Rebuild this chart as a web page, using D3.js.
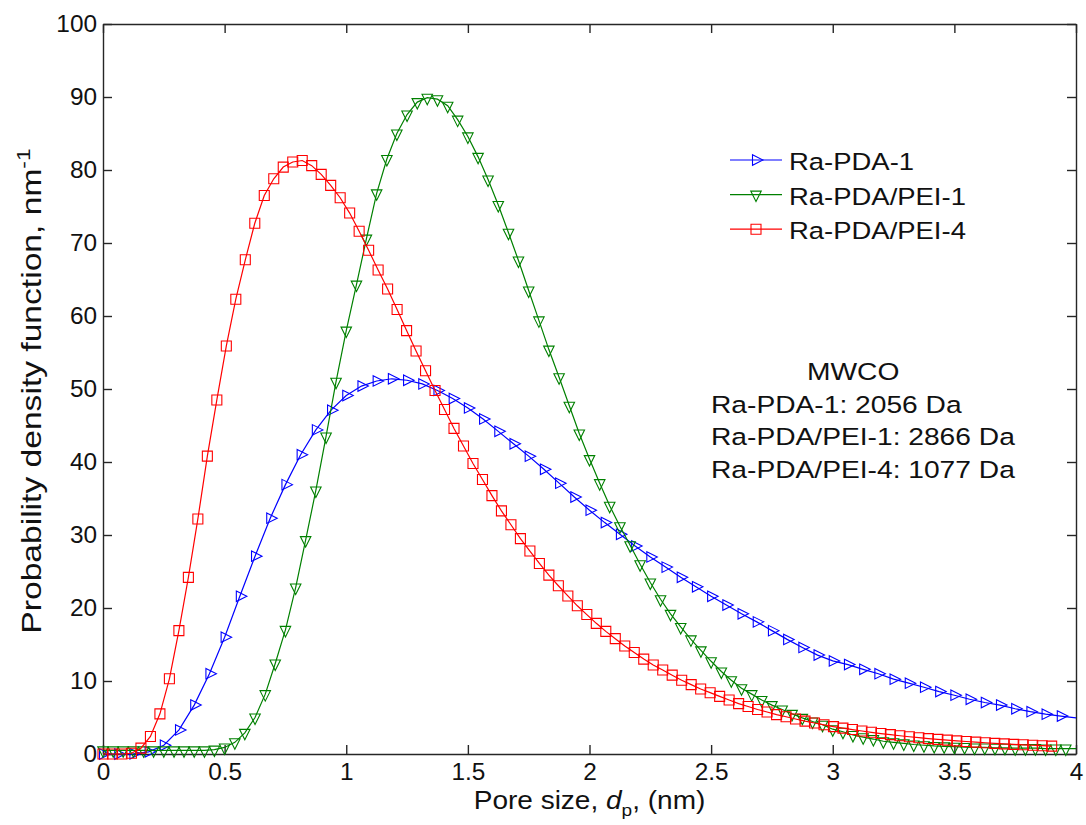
<!DOCTYPE html>
<html><head><meta charset="utf-8">
<script src="https://cdn.jsdelivr.net/npm/d3@7/dist/d3.min.js"></script>
<style>
body{margin:0;background:#fff;}
svg text{font-family:"Liberation Sans", Arial, sans-serif; fill:#111;}
</style></head><body>
<svg id="c" width="1086" height="825"></svg>
<script>
// ---------- data ----------
const xTicks = [0, 0.5, 1, 1.5, 2, 2.5, 3, 3.5, 4];
const xTickLabels = ["0", "0.5", "1", "1.5", "2", "2.5", "3", "3.5", "4"];
const yTicks = [0, 10, 20, 30, 40, 50, 60, 70, 80, 90, 100];
const yTickLabels = ["0", "10", "20", "30", "40", "50", "60", "70", "80", "90", "100"];
const seriesNames = ["Ra-PDA-1", "Ra-PDA/PEI-1", "Ra-PDA/PEI-4"];
const mwcoTitle = "MWCO";
const mwcoLines = ["Ra-PDA-1: 2056 Da", "Ra-PDA/PEI-1: 2866 Da", "Ra-PDA/PEI-4: 1077 Da"];

const blueX = [0,0.0625,0.125,0.1875,0.25,0.3125,0.375,0.4375,0.5,0.5625,0.625,0.6875,0.75,0.8125,0.875,0.9375,1,1.0625,1.125,1.1875,1.25,1.3125,1.375,1.4375,1.5,1.5625,1.625,1.6875,1.75,1.8125,1.875,1.9375,2,2.0625,2.125,2.1875,2.25,2.3125,2.375,2.4375,2.5,2.5625,2.625,2.6875,2.75,2.8125,2.875,2.9375,3,3.0625,3.125,3.1875,3.25,3.3125,3.375,3.4375,3.5,3.5625,3.625,3.6875,3.75,3.8125,3.875,3.9375,4];
const blueY = [0,0,0.02,0.3,1.2,3.3,6.7,11.0,16.0,21.6,27.1,32.3,36.9,41.0,44.4,47.1,49.1,50.4,51.1,51.4,51.2,50.7,49.8,48.7,47.4,45.9,44.2,42.5,40.8,39.0,37.1,35.2,33.4,31.7,30.1,28.5,27.0,25.6,24.2,22.9,21.6,20.4,19.2,18.1,16.9,15.7,14.6,13.55,12.75,12.25,11.6,11.0,10.25,9.7,9.15,8.55,8.05,7.5,7.05,6.7,6.2,5.8,5.45,5.2,4.95];

const greenX = [0,0.042,0.083,0.125,0.167,0.208,0.25,0.292,0.333,0.375,0.417,0.458,0.5,0.542,0.583,0.625,0.667,0.708,0.75,0.792,0.833,0.875,0.917,0.958,1,1.042,1.083,1.125,1.167,1.208,1.25,1.292,1.333,1.375,1.417,1.458,1.5,1.542,1.583,1.625,1.667,1.708,1.75,1.792,1.833,1.875,1.917,1.958,2,2.042,2.083,2.125,2.167,2.208,2.25,2.292,2.333,2.375,2.417,2.458,2.5,2.542,2.583,2.625,2.667,2.708,2.75,2.792,2.833,2.875,2.917,2.958,3,3.042,3.083,3.125,3.167,3.208,3.25,3.292,3.333,3.375,3.417,3.458,3.5,3.542,3.583,3.625,3.667,3.708,3.75,3.792,3.833,3.875,3.917,3.958,4];
const greenY = [0.5,0.5,0.5,0.5,0.5,0.5,0.5,0.5,0.5,0.5,0.5,0.6,0.9,1.6,2.9,5.0,8.2,12.4,17.0,22.8,29.3,36.1,43.5,51.0,58.0,64.3,70.6,76.8,81.5,85.0,87.6,89.3,89.9,89.7,88.8,86.9,84.6,81.8,78.7,75.2,71.4,67.6,63.5,59.4,55.4,51.6,47.7,43.9,40.4,37.1,34.0,31.2,28.6,26.0,23.5,21.2,19.2,17.4,15.7,14.2,12.7,11.3,10.1,9.0,8.2,7.4,6.7,6.1,5.5,4.95,4.45,4.0,3.4,3.05,2.6,2.3,2.05,1.75,1.6,1.45,1.3,1.2,1.1,1.05,1.0,0.95,0.9,0.9,0.85,0.85,0.8,0.8,0.8,0.75,0.75,0.75,0.75];

const redX = [0,0.039,0.078,0.117,0.156,0.195,0.234,0.273,0.312,0.351,0.39,0.429,0.468,0.507,0.546,0.585,0.624,0.663,0.702,0.741,0.78,0.819,0.858,0.897,0.936,0.975,1.014,1.053,1.092,1.131,1.17,1.209,1.248,1.287,1.326,1.365,1.404,1.443,1.482,1.521,1.56,1.599,1.638,1.677,1.716,1.755,1.794,1.833,1.872,1.911,1.95,1.989,2.028,2.067,2.106,2.145,2.184,2.223,2.262,2.301,2.34,2.379,2.418,2.457,2.496,2.535,2.574,2.613,2.652,2.691,2.73,2.769,2.808,2.847,2.886,2.925,2.964,3.003,3.042,3.081,3.12,3.159,3.198,3.237,3.276,3.315,3.354,3.393,3.432,3.471,3.51,3.549,3.588,3.627,3.666,3.705,3.744,3.783,3.822,3.861,3.9];
const redY = [0,0,0,0.1,0.8,2.4,5.5,10.3,16.9,24.2,32.2,40.8,48.5,55.9,62.3,67.7,72.7,76.5,78.8,80.4,81.1,81.3,80.6,79.4,77.9,76.2,74.1,71.6,69.0,66.3,63.7,60.9,58.0,55.2,52.5,49.8,47.2,44.6,42.2,39.8,37.6,35.4,33.3,31.4,29.5,27.8,26.1,24.5,23.05,21.65,20.3,19.1,17.9,16.8,15.8,14.8,13.9,13.0,12.2,11.5,10.8,10.1,9.5,8.9,8.4,7.9,7.4,6.9,6.5,6.1,5.75,5.4,5.1,4.8,4.5,4.25,4.0,3.75,3.55,3.35,3.15,2.97,2.8,2.65,2.5,2.36,2.23,2.11,2.0,1.9,1.8,1.71,1.62,1.54,1.46,1.39,1.32,1.26,1.2,1.14,1.08];

// ---------- layout / style ----------
const L = 103, R = 1076, T = 24, B = 754;
const colors = ["#0000ff", "#008000", "#ff0000"];
const axisColor = "#262626";
const STRETCH_TICK = 1.06, STRETCH_TXT = 1.12, STRETCH_ANN = 1.15, STRETCH_YL = 1.2;

const svg = d3.select("#c");
const x = d3.scaleLinear().domain([0, 4]).range([L, R]);
const y = d3.scaleLinear().domain([0, 100]).range([B, T]);

function stretch(sel, k) {
  sel.each(function () {
    const w = this.getComputedTextLength();
    if (w > 0) {
      this.setAttribute("textLength", (w * k).toFixed(2));
      this.setAttribute("lengthAdjust", "spacingAndGlyphs");
    }
  });
}

// axes
const gx = svg.append("g").attr("transform", `translate(0,${B})`)
  .call(d3.axisBottom(x).tickValues(xTicks).tickFormat((d, i) => xTickLabels[i])
    .tickSizeInner(-9).tickSizeOuter(0).tickPadding(9.5));
const gy = svg.append("g").attr("transform", `translate(${L},0)`)
  .call(d3.axisLeft(y).tickValues(yTicks).tickFormat((d, i) => yTickLabels[i])
    .tickSizeInner(-9).tickSizeOuter(0).tickPadding(6));
const gt = svg.append("g").attr("transform", `translate(0,${T})`)
  .call(d3.axisTop(x).tickValues(xTicks).tickFormat("").tickSizeInner(-9).tickSizeOuter(0));
const gr = svg.append("g").attr("transform", `translate(${R},0)`)
  .call(d3.axisRight(y).tickValues(yTicks).tickFormat("").tickSizeInner(-9).tickSizeOuter(0));

[gx, gy, gt, gr].forEach(g => {
  g.select(".domain").attr("stroke", axisColor).attr("stroke-width", 1.4);
  g.selectAll(".tick line").attr("stroke", axisColor).attr("stroke-width", 1.4);
  g.selectAll("text").attr("font-size", 23).attr("fill", "#111")
    .attr("font-family", '"Liberation Sans", Arial, sans-serif');
});
stretch(gx.selectAll("text"), STRETCH_TICK);
stretch(gy.selectAll("text"), STRETCH_TICK);

// markers
function markerPath(type) {
  if (type === 0) return "M-3.5,-5.25L7,0L-3.5,5.25Z";      // right-pointing triangle
  if (type === 1) return "M-5.25,-3.5L5.25,-3.5L0,7Z";      // down-pointing triangle
  return "M-5,-5L5,-5L5,5L-5,5Z";                            // square
}

const series = [
  { xs: blueX, ys: blueY },
  { xs: greenX, ys: greenY },
  { xs: redX, ys: redY }
];

const line = d3.line().x(d => x(d[0])).y(d => y(d[1]));
series.forEach((s, si) => {
  const pts = s.xs.map((v, i) => [v, s.ys[i]]);
  const g = svg.append("g");
  g.append("path").attr("d", line(pts)).attr("fill", "none")
    .attr("stroke", colors[si]).attr("stroke-width", 1.2);
  g.selectAll("path.m").data(pts.filter(p => p[0] < 4)).join("path").attr("class", "m")
    .attr("d", markerPath(si))
    .attr("transform", p => `translate(${x(p[0])},${y(p[1])})`)
    .attr("fill", "none").attr("stroke", colors[si]).attr("stroke-width", 1.1);
});

// legend
const lg = svg.append("g");
const legY0 = 160, legDy = 34.6;
seriesNames.forEach((name, i) => {
  const yy = legY0 + i * legDy;
  lg.append("line").attr("x1", 730).attr("x2", 782).attr("y1", yy).attr("y2", yy)
    .attr("stroke", colors[i]).attr("stroke-width", 1.2);
  lg.append("path").attr("d", markerPath(i)).attr("transform", `translate(756,${yy})`)
    .attr("fill", "none").attr("stroke", colors[i]).attr("stroke-width", 1.1);
  lg.append("text").attr("x", 789).attr("y", yy + 10).attr("font-size", 24.5).text(name);
});
stretch(lg.selectAll("text"), STRETCH_TXT);

// MWCO annotation
const ann = svg.append("g");
ann.append("text").attr("x", 807).attr("y", 380).attr("font-size", 24.5).text(mwcoTitle);
mwcoLines.forEach((t, i) => {
  ann.append("text").attr("x", 711).attr("y", 413 + i * 32.3).attr("font-size", 24.5).text(t);
});
stretch(ann.selectAll("text"), STRETCH_ANN);

// x label
const xl = svg.append("text").attr("x", (L + R) / 2).attr("y", 809)
  .attr("text-anchor", "middle").attr("font-size", 25);
xl.append("tspan").text("Pore size, ");
xl.append("tspan").attr("font-style", "italic").text("d");
xl.append("tspan").attr("font-size", 17).attr("dy", 7).text("p");
xl.append("tspan").attr("dy", -7).text(", (nm)");
stretch(xl, STRETCH_TXT);

// y label
const yl = svg.append("text").attr("transform", `translate(41,${(T + B) / 2 + 2}) rotate(-90)`)
  .attr("text-anchor", "middle").attr("font-size", 28);
yl.append("tspan").text("Probability density function, nm");
yl.append("tspan").attr("font-size", 19).attr("dy", -11).text("-1");
stretch(yl, STRETCH_YL);
</script>
</body></html>
